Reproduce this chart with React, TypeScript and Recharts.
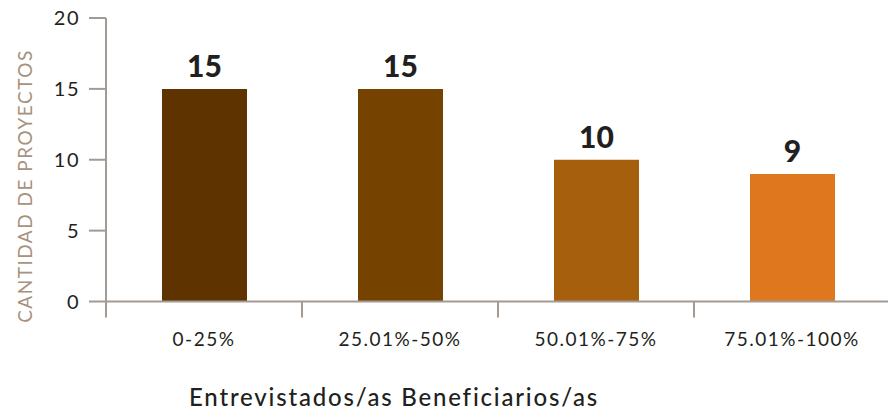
import { BarChart, Bar, XAxis, YAxis, Cell, LabelList } from 'recharts';

const categories = ['0-25%', '25.01%-50%', '50.01%-75%', '75.01%-100%'];
const projectCounts = [15, 15, 10, 9];
const yTicks = [0, 5, 10, 15, 20];

const BAR_COLORS = ['#5f3300', '#764200', '#a65f0c', '#de771e'];
const AXIS_COLOR = '#a39a92';
const TEXT_COLOR = '#231f20';

const CHART_W = 890;
const CHART_H = 415;
const Y_AXIS_W = 106;
const PLOT_W = CHART_W - Y_AXIS_W;
const HALF_BAND = PLOT_W / categories.length / 2;

const data = categories.map((name, i) => ({ name, value: projectCounts[i] }));

function CategoryTick(props: any) {
  const { x, y, payload } = props;
  return (
    <g>
      <line
        x1={x - HALF_BAND}
        y1={y}
        x2={x - HALF_BAND}
        y2={y + 16}
        stroke={AXIS_COLOR}
        strokeWidth={2}
      />
      <text
        x={x}
        y={y + 44}
        textAnchor="middle"
        fill={TEXT_COLOR}
        fontSize={19}
        letterSpacing={1.5}
        fontFamily="Lato, sans-serif"
      >
        {payload.value}
      </text>
    </g>
  );
}

function YTitle() {
  return (
    <text
      transform="translate(32,186) rotate(-90)"
      textAnchor="middle"
      fill="#a6927e"
      fontSize={19}
      letterSpacing={1.5}
      fontFamily="Lato, sans-serif"
    >
      CANTIDAD DE PROYECTOS
    </text>
  );
}

export default function App() {
  return (
    <div
      style={{
        position: 'absolute',
        left: 0,
        top: 0,
        width: 888,
        height: 415,
        overflow: 'hidden',
        background: '#fff',
      }}
    >
      <BarChart
        width={CHART_W}
        height={CHART_H}
        data={data}
        margin={{ top: 18, right: 0, left: 0, bottom: 53.5 }}
      >
        <YAxis
          width={Y_AXIS_W}
          domain={[0, 20]}
          ticks={yTicks}
          interval={0}
          axisLine={{ stroke: AXIS_COLOR, strokeWidth: 2 }}
          tickLine={{ stroke: AXIS_COLOR, strokeWidth: 2 }}
          tickSize={17}
          tickMargin={9}
          tick={{
            fill: TEXT_COLOR,
            fontSize: 20,
            letterSpacing: 1.5,
            fontFamily: 'Lato, sans-serif',
          }}
          label={{ content: () => <YTitle /> }}
        />
        <XAxis
          dataKey="name"
          height={60}
          interval={0}
          axisLine={{ stroke: AXIS_COLOR, strokeWidth: 2 }}
          tickLine={false}
          tickSize={0}
          tickMargin={0}
          tick={<CategoryTick />}
        />
        <Bar dataKey="value" barSize={85} isAnimationActive={false}>
          {data.map((_d, i) => (
            <Cell key={i} fill={BAR_COLORS[i]} />
          ))}
          <LabelList
            dataKey="value"
            position="top"
            offset={12}
            fill={TEXT_COLOR}
            fontSize={30}
            fontWeight={900}
            fontFamily="Lato, sans-serif"
          />
        </Bar>
      </BarChart>
      <div
        style={{
          position: 'absolute',
          left: 0,
          width: 788,
          top: 383,
          textAlign: 'center',
          fontFamily: 'Lato, sans-serif',
          fontSize: 24,
          fontWeight: 500,
          letterSpacing: 1.8,
          color: TEXT_COLOR,
          lineHeight: '28px',
        }}
      >
        Entrevistados/as Beneficiarios/as
      </div>
    </div>
  );
}
